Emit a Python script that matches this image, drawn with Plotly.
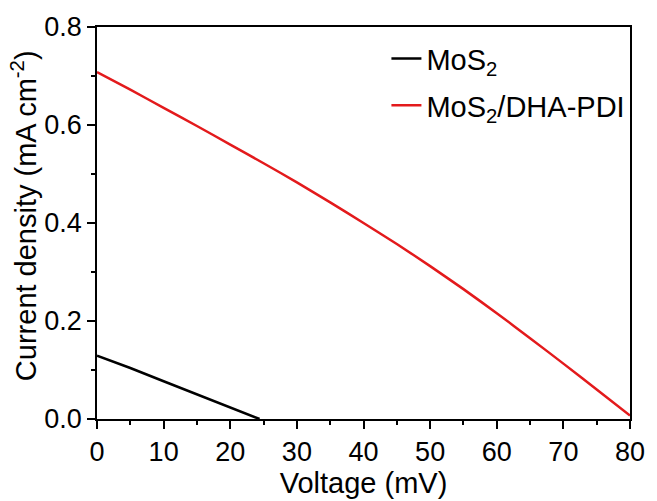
import plotly.graph_objects as go

voltage_mos2 = [0, 5, 10, 15, 20, 24.4]
current_mos2 = [0.129, 0.104, 0.077, 0.050, 0.024, 0.0]

voltage_pdi = [0, 5, 10, 15, 20, 25, 30, 35, 40, 45, 50, 55, 60, 65, 70, 75, 80]
current_pdi = [0.708, 0.672, 0.635, 0.598, 0.560, 0.522, 0.483, 0.442, 0.400,
               0.357, 0.312, 0.265, 0.216, 0.165, 0.113, 0.060, 0.007]

x_ticks = [0, 10, 20, 30, 40, 50, 60, 70, 80]
y_ticks = [0.0, 0.2, 0.4, 0.6, 0.8]

FONT = "Liberation Sans, Arial, sans-serif"

fig = go.Figure()
fig.add_trace(go.Scatter(x=voltage_mos2, y=current_mos2, mode="lines",
                         name="MoS<sub>2</sub>", legendgroup="a",
                         line=dict(color="#000000", width=2.5)))
fig.add_trace(go.Scatter(x=voltage_pdi, y=current_pdi, mode="lines",
                         name="MoS<sub>2</sub>/DHA-PDI", legendgroup="b",
                         line=dict(color="#e31a1c", width=2.5, shape="spline", smoothing=0.6)))

axis_common = dict(showgrid=False, zeroline=False, showline=True, linecolor="black",
                   linewidth=1.5, mirror=True, ticks="outside", ticklen=8, tickwidth=1.5,
                   tickcolor="black", tickfont=dict(size=27, color="black", family=FONT))

fig.update_xaxes(range=[0, 80], tickvals=x_ticks, ticktext=[str(v) for v in x_ticks],
                 title=dict(text="Voltage (mV)", font=dict(size=29, color="black", family=FONT),
                            standoff=2),
                 minor=dict(ticks="outside", ticklen=4, tickwidth=1.5, tickcolor="black", dtick=5),
                 **axis_common)
fig.update_yaxes(range=[0, 0.8], tickvals=y_ticks, ticktext=[f"{v:.1f}" for v in y_ticks],
                 minor=dict(ticks="outside", ticklen=4, tickwidth=1.5, tickcolor="black", dtick=0.1),
                 **axis_common)

fig.add_annotation(text="Current density (mA cm<sup>-2</sup>)", textangle=-90,
                   xref="paper", yref="paper", x=-0.137, y=0.52,
                   xanchor="center", yanchor="middle", showarrow=False,
                   font=dict(size=29, color="black", family=FONT))

fig.update_layout(
    width=657, height=501,
    margin=dict(l=97, r=19, t=26, b=76),
    paper_bgcolor="white", plot_bgcolor="white",
    font=dict(family=FONT, color="black"),
    legend=dict(x=0.543, y=0.984, xanchor="left", yanchor="top", tracegroupgap=6,
                traceorder="grouped",
                bgcolor="rgba(0,0,0,0)", font=dict(size=29, color="black", family=FONT)),
)

fig.write_html("out.html")
